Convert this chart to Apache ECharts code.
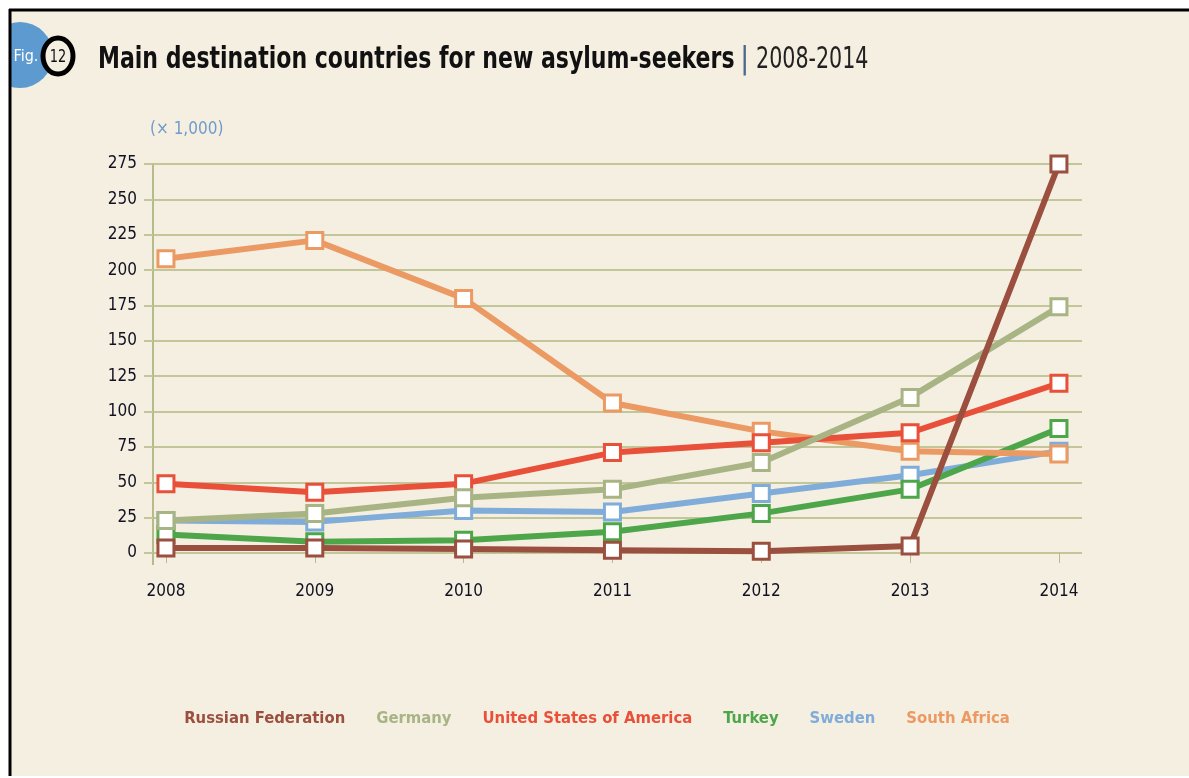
<!DOCTYPE html>
<html>
<head>
<meta charset="utf-8">
<title>Main destination countries for new asylum-seekers</title>
<script src="https://cdn.jsdelivr.net/npm/echarts@6/dist/echarts.min.js"></script>
<style>
  html, body { margin: 0; padding: 0; background: #fff; }
  #chart { width: 1189px; height: 778px; }
</style>
</head>
<body>
<div id="chart"></div>
<script>
// values in thousands
const years = [2008, 2009, 2010, 2011, 2012, 2013, 2014]
const yTicks = [0, 25, 50, 75, 100, 125, 150, 175, 200, 225, 250, 275]

const russia = [3.5, 3.5, 2.8, 2, 1.2, 5, 275]
const germany = [23, 28, 39, 45, 64, 110, 174]
const usa = [49, 43, 49, 71, 78, 85, 120]
const turkey = [13, 8, 9, 15, 28, 45, 88]
const sweden = [23, 22, 30, 29, 42, 55, 72]
const southAfrica = [208, 221, 180, 106, 86, 72, 70]

const countries = ['Russian Federation', 'Germany', 'United States of America', 'Turkey', 'Sweden', 'South Africa']
const colors = ['#9a4f3f', '#a9b485', '#e8503a', '#4ea64a', '#80acd9', '#eb9a63']
const values = [russia, germany, usa, turkey, sweden, southAfrica]
// stacking of the lines as seen in the figure (higher = on top)
const zOrder = [10, 9, 8, 6, 5, 7]

const FONT = "'DejaVu Sans Condensed', 'Liberation Sans Narrow', sans-serif"
const gridColor = '#c3c699'
const axisColor = '#b5bc8a'

function makeSeries(i) {
  return {
    name: countries[i],
    type: 'line',
    data: years.map((y, k) => [y, values[i][k]]),
    symbol: 'rect',
    symbolSize: 16,
    lineStyle: { color: colors[i], width: 6 },
    itemStyle: { color: '#fff', borderColor: colors[i], borderWidth: 3 },
    emphasis: { disabled: true },
    z: zOrder[i]
  }
}

const series = countries.map((c, i) => makeSeries(i))

let chart = echarts.init(document.getElementById('chart'))
chart.setOption({
  backgroundColor: '#fff',
  animation: false,
  graphic: [
    { type: 'rect', shape: { x: 9, y: 9, width: 1180, height: 767 }, style: { fill: '#f5efe2' }, z: -10 },
    { type: 'circle', shape: { cx: 20, cy: 55, r: 33 }, style: { fill: '#5c9ad0' }, z: 1 },
    { type: 'rect', shape: { x: 0, y: 0, width: 9, height: 100 }, style: { fill: '#fff' }, z: 2 },
    { type: 'rect', shape: { x: 0, y: 0, width: 200, height: 9 }, style: { fill: '#fff' }, z: 2 },
    { type: 'line', shape: { x1: 9, y1: 10, x2: 1189, y2: 10 }, style: { stroke: '#000', lineWidth: 3 }, z: 3 },
    { type: 'line', shape: { x1: 10, y1: 9, x2: 10, y2: 776 }, style: { stroke: '#000', lineWidth: 3 }, z: 3 },
    {
      type: 'text', x: 26, y: 57, z: 4,
      style: { text: 'Fig.', fill: '#fff', font: '16px ' + FONT, align: 'center', verticalAlign: 'middle' }
    },
    { type: 'ellipse', shape: { cx: 58, cy: 56, rx: 15, ry: 18 }, style: { fill: '#f5efe2', stroke: '#000', lineWidth: 5 }, z: 4 },
    {
      type: 'text', x: 58, y: 57, z: 5, scaleX: 0.8,
      style: { text: '12', fill: '#111', font: '18px ' + FONT, align: 'center', verticalAlign: 'middle' }
    },
    // title, squeezed to the condensed face of the original
    {
      type: 'text', x: 98, y: 60, z: 5, scaleX: 0.79,
      style: {
        text: 'Main destination countries for new asylum-seekers',
        fill: '#111', font: 'bold 31px ' + FONT, verticalAlign: 'middle'
      }
    },
    {
      type: 'text', x: 740, y: 60, z: 5,
      style: { text: '|', fill: '#4a6a8a', font: '31px ' + FONT, verticalAlign: 'middle' }
    },
    {
      type: 'text', x: 756, y: 60, z: 5, scaleX: 0.74,
      style: { text: '2008-2014', fill: '#222', font: '31px ' + FONT, verticalAlign: 'middle' }
    },
    {
      type: 'text', x: 150, y: 130, z: 5,
      style: { text: '(\u00d7 1,000)', fill: '#6f9cc9', font: '17px ' + FONT, verticalAlign: 'middle' }
    },
    // y axis line runs a bit below zero
    { type: 'line', shape: { x1: 153, y1: 553, x2: 153, y2: 565 }, style: { stroke: axisColor, lineWidth: 2 }, z: 5 }
  ],
  legend: {
    bottom: 46,
    left: 'center',
    icon: 'none',
    itemWidth: 0,
    itemGap: 26,
    selectedMode: false,
    data: countries.map((c, i) => ({
      name: c,
      textStyle: { color: colors[i], fontFamily: FONT, fontWeight: 'bold', fontSize: 16.5 }
    }))
  },
  grid: {
    left: 153,
    right: 107,
    top: 164,
    bottom: 225,
    containLabel: false
  },
  xAxis: {
    type: 'value',
    min: 2007.913,
    max: 2014.155,
    splitLine: { show: false },
    axisLine: { show: false },
    axisTick: {
      show: true,
      customValues: years,
      length: 10,
      lineStyle: { color: axisColor, width: 1 }
    },
    axisLabel: {
      customValues: years,
      margin: 30,
      color: '#111122',
      fontFamily: FONT,
      fontSize: 17,
      formatter: v => String(v)
    }
  },
  yAxis: {
    type: 'value',
    min: 0,
    max: 275,
    interval: 25,
    axisLine: { show: true, lineStyle: { color: axisColor, width: 2 } },
    axisTick: { show: true, length: 9, lineStyle: { color: gridColor, width: 2 } },
    splitLine: { show: true, lineStyle: { color: gridColor, width: 2 } },
    axisLabel: {
      customValues: yTicks,
      margin: 16,
      color: '#111122',
      fontFamily: FONT,
      fontSize: 17
    }
  },
  series: series
})
</script>
</body>
</html>
